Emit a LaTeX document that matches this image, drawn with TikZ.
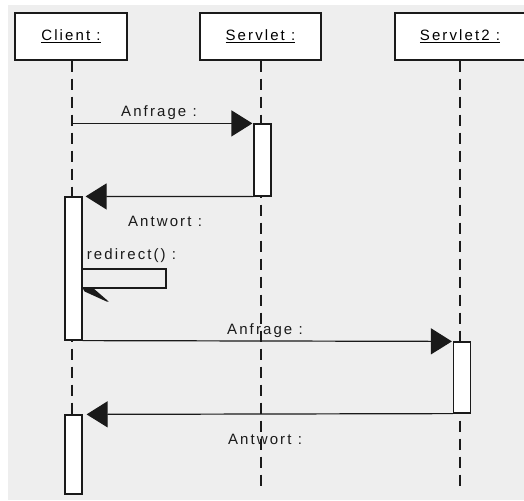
\documentclass[tikz,border=0pt]{standalone}
\usepackage{fontspec}
\setmainfont{Liberation Sans}[LetterSpace=14]
\usetikzlibrary{arrows.meta}
\definecolor{bg}{HTML}{EEEEEE}
\definecolor{ink}{HTML}{1A1A1A}
\begin{document}
\begin{tikzpicture}[x=1pt,y=-1pt,
  head/.style={draw=ink,line width=1.4pt,fill=white,minimum height=47pt,inner sep=0pt,
    font=\fontsize{15}{17}\selectfont},
  life/.style={draw=ink,line width=1.2pt,dash pattern=on 11pt off 7pt},
  actbar/.style={draw=ink,line width=1.2pt,fill=white,minimum width=17pt,inner sep=0pt},
  msg/.style={draw=ink,line width=1.2pt,-{Triangle[length=21pt,width=26pt]}},
  selfmsg/.style={draw=ink,line width=1.2pt},
  lbl/.style={font=\fontsize{15}{17}\selectfont,inner sep=0pt,text=ink}]
\useasboundingbox (0,0) rectangle (524,500);
\fill[white] (0,0) rectangle (524,500);
\fill[bg] (8,5) rectangle (524,500);
\begin{scope}
\clip (0,0) rectangle (524,500);
% heads
\node[head,minimum width=112pt] (client) at (71,36.5) {\underline{Client :}};
\node[head,minimum width=121pt] (servlet) at (260.5,36.5) {\underline{Servlet :}};
\node[head,minimum width=130pt] (servlet2) at (460,36.5) {\underline{Servlet2 :}};
% lifeline ends
\coordinate (cend) at (72,488);
\coordinate (send) at (261,488);
\coordinate (s2end) at (460,488);
\draw[life] (client.south -| cend) -- (cend);
\draw[life] (servlet.south -| send) -- (send);
\draw[life] (servlet2.south -| s2end) -- (s2end);
% activations
\node[actbar,minimum height=72pt] (sact1) at (262.5,160) {};
\node[actbar,minimum height=143pt] (cact1) at (73.5,268.5) {};
\node[actbar,minimum height=71pt] (s2act) at (462,377.5) {};
\node[actbar,minimum height=79pt] (cact2) at (73.5,454.5) {};
% messages
\draw[msg,shorten >=1pt] (cend |- sact1.north) -- (sact1.north west);
\draw[msg,shorten >=3pt] (sact1.south west) -- (cact1.north east);
\draw[msg,shorten >=1pt] (cact1.south east) -- (s2act.north west);
\draw[msg,shorten >=4pt] (s2act.south west) -- (cact2.north east);
% self call
\coordinate (selfA) at (166,269);
\coordinate (selfB) at (166,288);
\draw[selfmsg] (cact1.east |- selfA) -- (selfA) -- (selfB) -- (cact1.east |- selfB);
\fill[ink] (cact1.east |- selfB) -- ++(11,0.5) -- ++(15,13) -- ++(-2,0) -- ++(-22,-10) -- cycle;
% labels
\node[lbl] (l1) at (159,113) {Anfrage :};
\node[lbl] (l2) at (165,221) {Antwort :};
\node[lbl] (l3) at (131.5,256) {redirect() :};
\node[lbl] (l4) at (265,331) {Anfrage :};
\node[lbl] (l5) at (265,439) {Antwort :};
\end{scope}
\end{tikzpicture}
\end{document}
